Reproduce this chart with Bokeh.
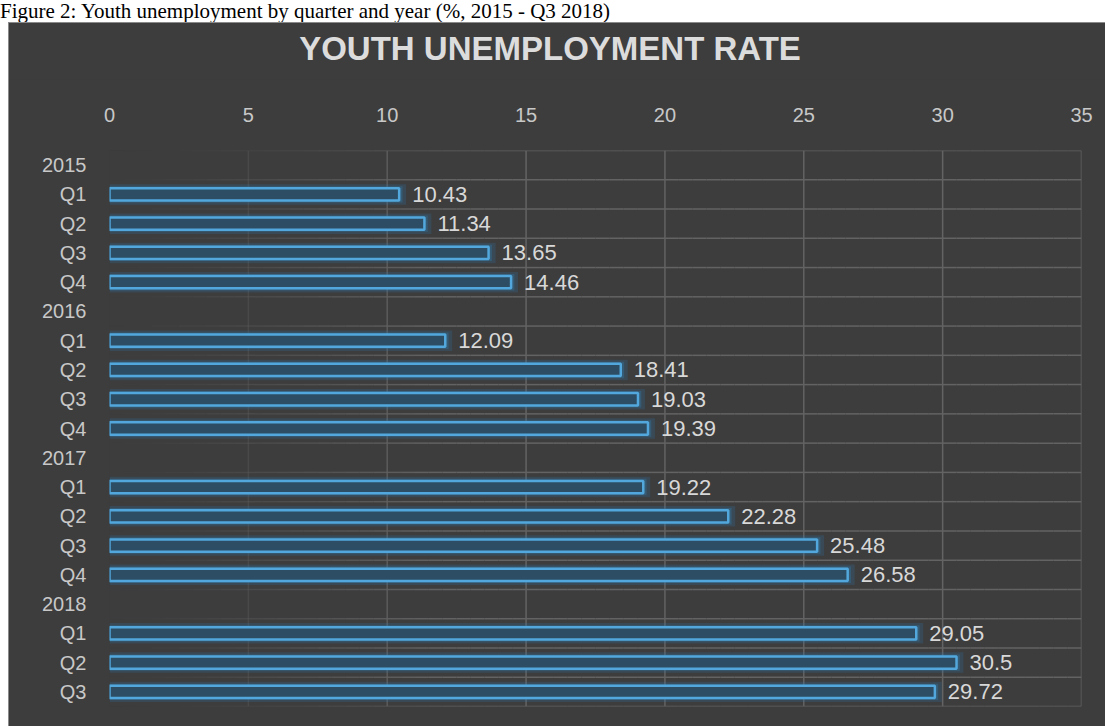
from bokeh.plotting import figure
from bokeh.models import Range1d, FixedTicker, Div, ColumnDataSource
from bokeh.layouts import column
from bokeh.embed import file_html
from bokeh.resources import INLINE
from bokeh.core.properties import value

# ---- data ----
caption = "Figure 2: Youth unemployment by quarter and year (%, 2015 - Q3 2018)"
chart_title = "YOUTH UNEMPLOYMENT RATE"
years = ["2015", "2016", "2017", "2018"]
quarters = ["Q1", "Q2", "Q3", "Q4"]
rates_2015 = [10.43, 11.34, 13.65, 14.46]
rates_2016 = [12.09, 18.41, 19.03, 19.39]
rates_2017 = [19.22, 22.28, 25.48, 26.58]
rates_2018 = [29.05, 30.5, 29.72]
x_ticks = [0, 5, 10, 15, 20, 25, 30, 35]

# ---- build rows (year header row, then quarter rows) ----
row_labels = []
bar_rows = []
bar_vals = []
for yr, rates in zip(years, [rates_2015, rates_2016, rates_2017, rates_2018]):
    row_labels.append(yr)
    for q, r in zip(quarters, rates):
        bar_rows.append(len(row_labels))
        bar_vals.append(r)
        row_labels.append(q)

n = len(row_labels)
pos = [n - 1 - i for i in range(n)]
bar_pos = [n - 1 - i for i in bar_rows]
bar_txt = [str(v) for v in bar_vals]

src = ColumnDataSource(dict(
    y=bar_pos, v=bar_vals, t=bar_txt,
    gl=[-0.25] * len(bar_vals), gr=[v + 0.25 for v in bar_vals],
    gl2=[-0.12] * len(bar_vals), gr2=[v + 0.12 for v in bar_vals],
))

BG = "#3d3d3d"
GRID = "#636363"
FONT = "Liberation Sans"
W = 1096

p = figure(width=W, height=647, x_range=Range1d(0, 35),
           y_range=Range1d(-0.5, n - 0.5), x_axis_location="above",
           output_backend="svg", toolbar_location=None,
           min_border_left=100, min_border_right=24,
           min_border_top=71, min_border_bottom=20,
           background_fill_color=BG, border_fill_color=BG,
           outline_line_color=None, margin=(0, 0, 0, 0))

p.xgrid.visible = False
p.ygrid.visible = False

# ---- fading grid (drawn as segments) ----
fade_end = 12.0
hx0, hx1, hy, ha = [], [], [], []
for b in range(n + 1):
    yb = b - 0.5
    for k in range(70):
        a0 = k * 0.5
        a1 = a0 + 0.5
        mid = (a0 + a1) / 2
        hx0.append(a0); hx1.append(a1); hy.append(yb)
        ha.append(min(1.0, (mid / fade_end)) ** 1.3)
p.segment(x0=hx0, x1=hx1, y0=hy, y1=hy, line_color=GRID, line_alpha=ha, line_width=1.5)
vx = [t for t in x_ticks if t > 0]
va = [min(1.0, t / fade_end) ** 1.3 for t in vx]
p.segment(x0=vx, x1=vx, y0=[-0.5] * len(vx), y1=[n - 0.5] * len(vx),
          line_color=GRID, line_alpha=va, line_width=1.5)

# ---- glowing bars ----
p.hbar(y="y", left="gl", right="gr", height=0.70, source=src,
       fill_color="#2f7bb0", fill_alpha=0.22, line_color=None)
p.hbar(y="y", left="gl2", right="gr2", height=0.56, source=src,
       fill_color="#2f7bb0", fill_alpha=0.35, line_color=None)
p.hbar(y="y", left=0, right="v", height=0.42, source=src,
       fill_color="#2d4d64", fill_alpha=1.0,
       line_color="#52a8dc", line_width=2.5)

p.text(x="v", y="y", text="t", source=src, x_offset=13,
       text_baseline="middle", text_align="left",
       text_font=value(FONT), text_font_size="22px", text_color="#d8d8d8")

# ---- axes ----
for ax in (p.xaxis[0], p.yaxis[0]):
    ax.axis_line_color = None
    ax.major_tick_line_color = None
    ax.minor_tick_line_color = None
    ax.major_tick_out = 0
    ax.major_tick_in = 0
    ax.major_label_text_color = "#c8c8c8"
    ax.major_label_text_font = FONT
    ax.major_label_text_font_size = "20px"

p.xaxis.ticker = FixedTicker(ticks=x_ticks)
p.xaxis.major_label_standoff = 29
p.yaxis.ticker = FixedTicker(ticks=pos)
p.yaxis.major_label_overrides = {pp: lab for pp, lab in zip(pos, row_labels)}
p.yaxis.major_label_standoff = 23

cap = Div(text=('<div style="font-family:\'Liberation Serif\';font-size:21px;'
                'line-height:22px;color:#000;white-space:nowrap;">'
                + caption + '</div>'),
          width=W + 8, height=22, margin=(0, 0, 0, 0))

title_div = Div(text=('<div style="font-family:\'Liberation Sans\';font-size:33px;'
                      'font-weight:bold;color:#dcdcdc;text-align:center;'
                      'width:' + str(W - 14) + 'px;line-height:52px;">'
                      + chart_title + '</div>'),
                width=W, height=56, margin=(0, 0, 0, 0))

panel = column(title_div, p, spacing=0, margin=(0, 0, 0, 8),
               styles={"background-color": BG, "border-left": "1px solid #8a8a8a",
                       "border-top": "1px solid #8a8a8a"})

layout = column(cap, panel, spacing=0)
open("out.html", "w").write(file_html(layout, INLINE))
